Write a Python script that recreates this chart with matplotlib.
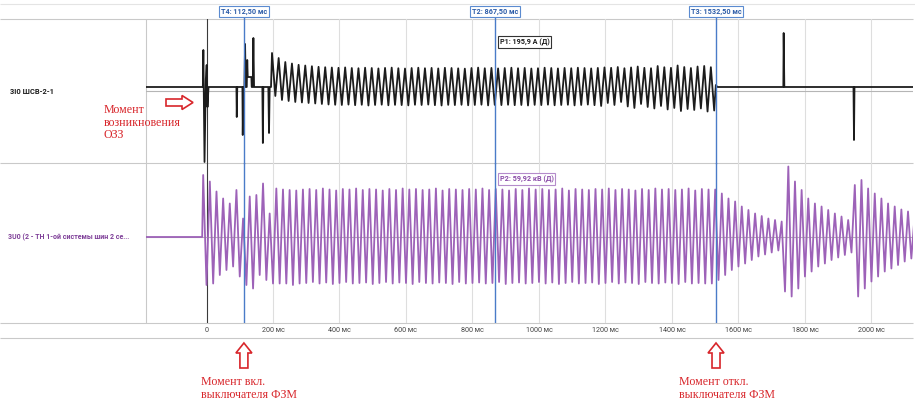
"""
Осциллограмма 3I0 / 3U0: возникновение ОЗЗ, вкл. и откл. выключателя ФЗМ
"""

import matplotlib
matplotlib.use('Agg')
import matplotlib.pyplot as plt
from matplotlib.patches import FancyArrow
from matplotlib.transforms import blended_transform_factory

plt.rcParams['font.family'] = ['Roboto', 'DejaVu Sans']

# ---------------- данные ----------------
T_MIN, T_MAX = -182, 2125          # видимое окно, мс
PERIOD = 20                        # 50 Гц

# 3I0 ШСВ-2-1, А: переходный процесс до начала колебаний
i0_pre_t = [-182, -11, -9.5, -6, -2, 0.5, 3, 6, 90, 91, 92.5, 108, 109, 111,
            114, 116, 118, 121, 122.5, 124, 135, 136, 139, 141, 143, 168, 169.5,
            171, 186, 188, 190, 194]
i0_pre_v = [40, 40, 410, -710, 120, 260, -160, 40, 40, -260, 40, 40, -440, 40,
            40, 470, 40, 40, 310, 140, 140, 40, 40, 530, 40, 40, -520,
            40, 40, -420, 40, 40]
# амплитуды по периодам (макс / мин), первый максимум при 197 мс
i0_start = 197
i0_peaks = [380, 330, 290, 275, 262, 255, 248, 242, 238, 235,
            232, 236, 230, 228, 233, 230, 226, 231, 234, 228,
            225, 230, 233, 228, 231, 226, 232, 230, 227, 224,
            230, 234, 228, 231, 226, 230, 233, 228, 231, 225,
            228, 233, 230, 226, 231, 228, 233, 230, 226, 231,
            236, 232, 240, 228, 236, 245, 232, 228, 250, 238,
            232, 255, 240, 230, 245, 250, 238]
i0_troughs = [-50, -90, -100, -110, -115, -120, -125, -130, -135, -138,
              -140, -136, -142, -138, -145, -140, -137, -143, -139, -141,
              -144, -138, -140, -136, -142, -145, -139, -141, -138, -143,
              -140, -137, -144, -139, -141, -138, -142, -140, -145, -139,
              -141, -137, -143, -140, -138, -144, -140, -136, -142, -150,
              -120, -140, -110, -155, -170, -130, -160, -175, -150, -185,
              -170, -200, -180, -190, -175, -205, -195]
# после отключения ФЗМ
i0_post_t = [1532, 1534, 1537, 1735, 1736, 1738, 1946, 1947.5, 1949, 2125]
i0_post_v = [60, 50, 40, 40, 580, 40, 40, -490, 40, 40]

# 3U0, кВ: максимумы при -10 + 20k мс, минимумы при 20k мс
u0_start = -10
u0_peaks = [124, 111, 91, 77, 67, 94, 37, 81, 84, 107, 47, 97, 95, 94, 93, 95,
            96, 94, 97, 95, 93, 96, 95, 97, 94, 96,
            95, 93, 96, 94, 97, 95, 96, 94, 95, 97,
            93, 96, 95, 94, 96, 95, 97, 94, 96, 95,
            93, 96, 94, 97, 95, 96, 94, 95, 97, 93,
            96, 95, 94, 96, 95, 97, 94, 96, 95, 93,
            96, 94, 97, 95, 96, 94, 95, 97, 93, 96,
            95,
            95,
            87, 77, 71, 61, 54, 47, 42, 37, 34, 31,
            141, 111, 94, 77, 67, 61, 54, 47, 41, 34,
            104, 114, 97, 87, 77, 67, 61, 55, 51, 44]
u0_troughs = [-96, -93, -76, -66, -59, -79, -96, -103, -76, -86, -93, -93, -93, -96, -93,
              -92, -90, -93, -91, -94, -92, -90, -93, -92, -91,
              -94, -92, -90, -93, -91, -92, -94, -90, -92, -93,
              -91, -92, -94, -90, -93, -92, -91, -93, -92, -90,
              -94, -92, -91, -93, -92, -90, -93, -91, -94, -92,
              -90, -93, -92, -91, -94, -92, -90, -93, -91, -92,
              -94, -90, -92, -93, -91, -92, -94, -90, -93, -92,
              -93, -93,
              -86, -76, -66, -59, -53, -46, -39, -35, -31, -27,
              -109, -119, -103, -79, -69, -59, -53, -46, -41, -36,
              -31, -119, -103, -89, -79, -69, -63, -56, -49, -43]

cursors = [('T4', 112.5), ('T2', 867.5), ('T3', 1532.5)]
tick_ms = [0, 200, 400, 600, 800, 1000, 1200, 1400, 1600, 1800, 2000]

# ---------------- сборка кривых ----------------
i_t = list(i0_pre_t)
i_v = list(i0_pre_v)
for k, (p, q) in enumerate(zip(i0_peaks, i0_troughs)):
    i_t += [i0_start + PERIOD * k, i0_start + PERIOD * k + PERIOD / 2]
    i_v += [p, q]
i_t += i0_post_t
i_v += i0_post_v

u_t = [T_MIN, u0_start - 3]
u_v = [0, 0]
for k, p in enumerate(u0_peaks):
    u_t.append(u0_start + PERIOD * k)
    u_v.append(p)
    if k < len(u0_troughs):
        u_t.append(u0_start + PERIOD * k + PERIOD / 2)
        u_v.append(u0_troughs[k])

# ---------------- рисунок ----------------
W, H = 915, 404
fig = plt.figure(figsize=(W / 100, H / 100), dpi=100)
fig.patch.set_facecolor('white')


def px_box(x0, y0, x1, y1):
    return [x0 / W, 1 - y1 / H, (x1 - x0) / W, (y1 - y0) / H]


ax_bg = fig.add_axes([0, 0, 1, 1])
ax_bg.set_xlim(0, W)
ax_bg.set_ylim(H, 0)
ax_bg.axis('off')

ax_i = fig.add_axes(px_box(146, 19, 913, 163))
ax_u = fig.add_axes(px_box(146, 163, 913, 323))
ax_t = fig.add_axes(px_box(146, 323, 913, 338))
for ax in (ax_i, ax_u, ax_t):
    ax.set_xlim(T_MIN, T_MAX)
    ax.set_xticks([])
    ax.set_yticks([])
    ax.patch.set_alpha(0)
    for s in ax.spines.values():
        s.set_visible(False)
ax_i.set_ylim(-720, 720)
ax_u.set_ylim(-172, 148)
ax_t.set_ylim(0, 1)

# рамка
frame_c = '#c9c9c9'
ax_bg.hlines([4], 0, W, color='#e4e4e4', lw=0.8)
ax_bg.hlines([19, 163, 323, 338], 0, 913, color=frame_c, lw=0.8)
ax_bg.vlines([146], 19, 323, color=frame_c, lw=0.8)

# сетка
for ax in (ax_i, ax_u):
    for t in tick_ms:
        if t == 0:
            ax.axvline(t, color='#3a3a3a', lw=0.8, zorder=1)
        else:
            ax.axvline(t, color='#dedede', lw=0.8, zorder=1)
    ax.axhline(0, color='#b5b5b5', lw=0.8, zorder=1)

# кривые
ax_i.plot(i_t, i_v, color='#1c1c1c', lw=1.3, zorder=3)
ax_u.plot(u_t, u_v, color='#9d62b8', lw=1.3, zorder=3)

# курсоры
cur_c = '#4a7bc8'
hdr = blended_transform_factory(ax_i.transData, ax_i.transAxes)
for name, t in cursors:
    ax_i.axvline(t, ymin=0, ymax=1.02, color=cur_c, lw=1.0, zorder=4, clip_on=False)
    ax_u.axvline(t, color=cur_c, lw=1.0, zorder=4)
    lbl = f'{name}: {t:.2f}'.replace('.', ',') + ' мс'
    ax_i.text(t, 1 + 7.5 / 144, lbl, transform=hdr, ha='center', va='center',
              fontsize=5.2, fontweight='bold', color='#2c5ca8', zorder=6,
              bbox=dict(boxstyle='square,pad=0.25', fc='white', ec='#5b8bd0', lw=0.8))

t2 = cursors[1][1]
ax_i.text(t2 + 14, (163 - 42) / 144, 'P1: 195,9 А (Д)', transform=hdr,
          ha='left', va='center', fontsize=5.2, fontweight='bold', color='#1c1c1c',
          zorder=6, bbox=dict(boxstyle='square,pad=0.25', fc='white', ec='#333333', lw=0.8))
ax_u.text(t2 + 14, (323 - 179) / 160, 'P2: 59,92 кВ (Д)',
          transform=blended_transform_factory(ax_u.transData, ax_u.transAxes),
          ha='left', va='center', fontsize=5.2, fontweight='bold', color='#8a4ca8',
          zorder=6, bbox=dict(boxstyle='square,pad=0.25', fc='white', ec='#b58ccb', lw=0.8))

# подписи каналов
ax_bg.text(10, 92, '3I0 ШСВ-2-1', ha='left', va='center', fontsize=5.4,
           fontweight='bold', color='#1c1c1c')
ax_bg.text(8, 237, '3U0 (2 - ТН 1-ой системы шин 2 се...', ha='left', va='center',
           fontsize=5.0, fontweight='bold', color='#7e3f98')

# шкала времени
for t in tick_ms:
    ax_t.text(t, 0.5, '0' if t == 0 else f'{t} мс', ha='center', va='center',
              fontsize=5.2, color='#444444')

# красные пояснения
red = '#d8262b'
serif = ['Liberation Serif', 'DejaVu Serif']
ax_bg.text(104, 122.5, 'Момент\nвозникновения\nОЗЗ', ha='left', va='center',
           fontsize=8.6, family=serif, color=red, linespacing=1.05)
ax_bg.add_patch(FancyArrow(166, 102.5, 27, 0, width=7, head_width=14, head_length=11,
                           length_includes_head=True, fc='white', ec=red, lw=1.2))

to_px = ax_bg.transData.inverted()
notes = [(cursors[0][1], 'Момент вкл.\nвыключателя ФЗМ', 43),
         (cursors[2][1], 'Момент откл.\nвыключателя ФЗМ', 37)]
for t, txt, shift in notes:
    x_px = to_px.transform(ax_t.transData.transform((t, 0.5)))[0]
    ax_bg.add_patch(FancyArrow(x_px, 368, 0, -25, width=8, head_width=16, head_length=10,
                               length_includes_head=True, fc='white', ec=red, lw=1.2))
    ax_bg.text(x_px - shift, 388.5, txt, ha='left', va='center', fontsize=8.6,
               family=serif, color=red, linespacing=1.05)

fig.savefig('out.png', dpi=100, facecolor='white')
